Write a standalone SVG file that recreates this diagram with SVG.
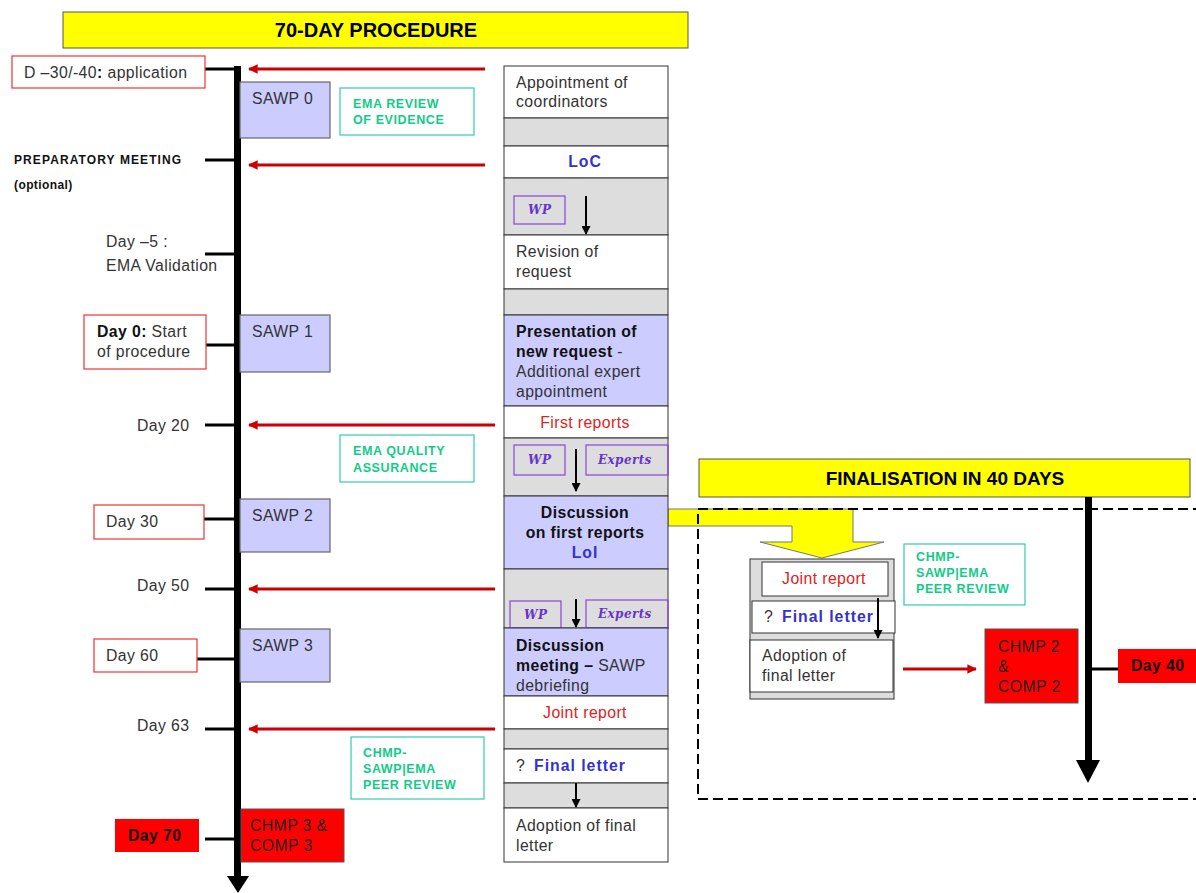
<svg xmlns="http://www.w3.org/2000/svg" width="1196" height="893" viewBox="0 0 1196 893">
<defs>
<style>
text{font-family:"Liberation Sans",Arial,sans-serif;font-size:15.8px;fill:#333;letter-spacing:0.4px}
.b{font-weight:bold;fill:#111}
.title{font-weight:bold;font-size:20px;fill:#000;text-anchor:middle;letter-spacing:0}
.g{font-weight:bold;font-size:12.5px;fill:#11cc88;letter-spacing:0.6px}
.blue{font-weight:bold;fill:#3333cc;letter-spacing:1px}
.red{fill:#dd2222}
.mid{text-anchor:middle}
.wp{font-weight:bold;font-style:italic;font-size:12px;fill:#6633cc;font-family:"DejaVu Serif",serif}
.lbl{fill:#fff;stroke:#ee3333;stroke-width:1.2}
.sawp{fill:#ccccff;stroke:#666;stroke-width:1.2}
.note{fill:#fff;stroke:#33ccaa;stroke-width:1.2}
.redbox{fill:#ff0000;stroke:#555;stroke-width:1}
.cw{fill:#fff;stroke:#333;stroke-width:1}
.cg{fill:#dddddd;stroke:#333;stroke-width:1}
.cl{fill:#ccccff;stroke:#333;stroke-width:1}
.pbox{fill:none;stroke:#8844dd;stroke-width:1.2}
.tick{stroke:#000;stroke-width:3}
.rarr{stroke:#cc0000;stroke-width:3;fill:none;marker-end:url(#rh)}
.darr{stroke:#000;stroke-width:2;fill:none;marker-end:url(#bh)}
</style>
<marker id="rh" viewBox="0 0 10 10" refX="9" refY="5" markerWidth="4" markerHeight="3.2" orient="auto" markerUnits="strokeWidth"><path d="M0,0 L10,5 L0,10 z" fill="#cc0000"/></marker>
<marker id="bh" viewBox="0 0 10 10" refX="9" refY="5" markerWidth="5" markerHeight="4.5" orient="auto" markerUnits="strokeWidth"><path d="M0,0 L10,5 L0,10 z" fill="#000"/></marker>
</defs>

<g id="title70">
<rect x="63" y="12" width="625" height="36" fill="#ffff00" stroke="#555" stroke-width="1"/>
<text class="title" x="376" y="37">70-DAY PROCEDURE</text>
</g>

<g id="timeline-main">
<rect x="234" y="66" width="7" height="814" fill="#000"/>
<path d="M227,876 L249,876 L238,893 z" fill="#000"/>
</g>

<g id="connectors">
<line class="tick" x1="205" y1="69" x2="236" y2="69"/>
<line class="tick" x1="205" y1="160" x2="236" y2="160"/>
<line class="tick" x1="205" y1="254" x2="236" y2="254"/>
<line class="tick" x1="206" y1="345" x2="236" y2="345"/>
<line class="tick" x1="205" y1="425" x2="236" y2="425"/>
<line class="tick" x1="204" y1="519" x2="236" y2="519"/>
<line class="tick" x1="205" y1="589" x2="236" y2="589"/>
<line class="tick" x1="197" y1="659" x2="236" y2="659"/>
<line class="tick" x1="205" y1="729" x2="236" y2="729"/>
<line class="tick" x1="205" y1="839" x2="236" y2="839"/>
<line class="rarr" x1="485" y1="69" x2="249" y2="69"/>
<line class="rarr" x1="485" y1="165" x2="249" y2="165"/>
<line class="rarr" x1="495" y1="425" x2="249" y2="425"/>
<line class="rarr" x1="495" y1="589" x2="249" y2="589"/>
<line class="rarr" x1="495" y1="729" x2="249" y2="729"/>
<line class="rarr" x1="903" y1="669" x2="976" y2="669"/>
<line class="tick" x1="1090" y1="669" x2="1118" y2="669"/>
<path d="M668,509 L853,509 L853,542 L884,542 L822,558 L760,542 L792,542 L792,526 L668,526 z" fill="#ffff00" stroke="#777" stroke-width="1"/>
</g>

<g id="d-30">
<rect class="lbl" x="12" y="56" width="193" height="32"/>
<text x="24" y="78">D –30/-40<tspan class="b">:</tspan> application</text>
</g>
<g id="sawp0"><rect class="sawp" x="240" y="82" width="90" height="56"/><text x="252" y="104">SAWP 0</text></g>
<g id="ema-review"><rect class="note" x="340" y="88" width="134" height="47"/><text class="g" x="353" y="108">EMA REVIEW</text><text class="g" x="353" y="124">OF EVIDENCE</text></g>
<g id="prep"><text class="b" x="14" y="164" style="font-size:12px;letter-spacing:1.1px">PREPARATORY MEETING</text><text class="b" x="14" y="189" style="font-size:12px">(optional)</text></g>
<g id="day-5"><text x="106" y="247">Day –5 :</text><text x="106" y="271">EMA Validation</text></g>
<g id="day0"><rect class="lbl" x="84" y="315" width="122" height="54"/><text x="97" y="337"><tspan class="b">Day 0:</tspan> Start</text><text x="97" y="357">of procedure</text></g>
<g id="sawp1"><rect class="sawp" x="240" y="315" width="90" height="57"/><text x="252" y="337">SAWP 1</text></g>
<g id="day20"><text x="137" y="431">Day 20</text></g>
<g id="ema-qa"><rect class="note" x="340" y="435" width="134" height="47"/><text class="g" x="353" y="455">EMA QUALITY</text><text class="g" x="353" y="472">ASSURANCE</text></g>
<g id="day30"><rect class="lbl" x="94" y="505" width="110" height="34"/><text x="106" y="527">Day 30</text></g>
<g id="sawp2"><rect class="sawp" x="240" y="499" width="90" height="53"/><text x="252" y="521">SAWP 2</text></g>
<g id="day50"><text x="137" y="591">Day 50</text></g>
<g id="day60"><rect class="lbl" x="94" y="639" width="103" height="33"/><text x="106" y="661">Day 60</text></g>
<g id="sawp3"><rect class="sawp" x="240" y="629" width="90" height="53"/><text x="252" y="651">SAWP 3</text></g>
<g id="day63"><text x="137" y="731">Day 63</text></g>
<g id="peer1"><rect class="note" x="351" y="737" width="133" height="62"/><text class="g" x="363" y="757">CHMP-</text><text class="g" x="363" y="773">SAWP|EMA</text><text class="g" x="363" y="789">PEER REVIEW</text></g>
<g id="day70"><rect x="115" y="819" width="84" height="33" fill="#ff0000"/><text class="b" x="128" y="841">Day 70</text></g>
<g id="chmp3"><rect class="redbox" x="241" y="809" width="103" height="53"/><text x="250" y="831" style="fill:#222">CHMP 3 &amp;</text><text x="250" y="851" style="fill:#222">COMP 3</text></g>

<g id="column">
<rect class="cw" x="504" y="66" width="164" height="52"/>
<text x="516" y="88">Appointment of</text><text x="516" y="107">coordinators</text>
<rect class="cg" x="504" y="118" width="164" height="28"/>
<rect class="cw" x="504" y="146" width="164" height="32"/>
<text class="blue mid" x="585" y="167">LoC</text>
<rect class="cg" x="504" y="178" width="164" height="57"/>
<rect class="pbox" x="514" y="196" width="51" height="28"/><text class="wp" x="528" y="214">WP</text>
<line class="darr" x1="586" y1="196" x2="586" y2="234"/>
<rect class="cw" x="504" y="235" width="164" height="54"/>
<text x="516" y="257">Revision of</text><text x="516" y="277">request</text>
<rect class="cg" x="504" y="289" width="164" height="26"/>
<rect class="cl" x="504" y="315" width="164" height="91"/>
<text class="b" x="516" y="337">Presentation of</text>
<text x="516" y="357"><tspan class="b">new request</tspan> -</text>
<text x="516" y="377">Additional expert</text>
<text x="516" y="397">appointment</text>
<rect class="cw" x="504" y="406" width="164" height="32"/>
<text class="red mid" x="585" y="428">First reports</text>
<rect class="cg" x="504" y="438" width="164" height="58"/>
<rect class="pbox" x="514" y="445" width="51" height="30"/><text class="wp" x="528" y="464">WP</text>
<rect class="pbox" x="586" y="445" width="82" height="30"/><text class="wp" x="598" y="464">Experts</text>
<line class="darr" x1="576" y1="449" x2="576" y2="491"/>
<rect class="cl" x="504" y="496" width="164" height="73"/>
<text class="b mid" x="585" y="518">Discussion</text>
<text class="b mid" x="585" y="538">on first reports</text>
<text class="blue mid" x="585" y="558">LoI</text>
<rect class="cg" x="504" y="569" width="164" height="59"/>
<rect class="pbox" x="510" y="601" width="51" height="27"/><text class="wp" x="524" y="619">WP</text>
<rect class="pbox" x="586" y="600" width="82" height="28"/><text class="wp" x="598" y="618">Experts</text>
<line class="darr" x1="576" y1="599" x2="576" y2="627"/>
<rect class="cl" x="504" y="628" width="164" height="68"/>
<text class="b" x="516" y="651">Discussion</text>
<text x="516" y="671"><tspan class="b">meeting –</tspan> SAWP</text>
<text x="516" y="691">debriefing</text>
<rect class="cw" x="504" y="696" width="164" height="33"/>
<text class="red mid" x="585" y="718">Joint report</text>
<rect class="cg" x="504" y="729" width="164" height="20"/>
<rect class="cw" x="504" y="749" width="164" height="34"/>
<text x="516" y="771">? <tspan class="blue" dx="4">Final letter</tspan></text>
<rect class="cg" x="504" y="783" width="164" height="25"/>
<line class="darr" x1="576" y1="783" x2="576" y2="807"/>
<rect class="cw" x="504" y="808" width="164" height="54"/>
<text x="516" y="831">Adoption of final</text><text x="516" y="851">letter</text>
</g>

<g id="final40">
<rect x="699" y="459" width="491" height="38" fill="#ffff00" stroke="#555" stroke-width="1"/>
<text class="title" x="945" y="485" style="font-size:19px">FINALISATION IN 40 DAYS</text>
</g>
<g id="dashed-frame"><rect x="698" y="509" width="520" height="290" fill="none" stroke="#000" stroke-width="2" stroke-dasharray="10,5"/></g>
<g id="timeline-final">
<rect x="1085" y="497" width="7" height="268" fill="#000"/>
<path d="M1076,760 L1100,760 L1088,783 z" fill="#000"/>
</g>
<g id="stack">
<rect x="750" y="559" width="144" height="140" fill="#dddddd" stroke="#333" stroke-width="1"/>
<rect class="cw" x="762" y="562" width="126" height="34"/>
<text class="red mid" x="824" y="584">Joint report</text>
<rect class="cw" x="752" y="601" width="143" height="32"/>
<text x="764" y="622">? <tspan class="blue" dx="4">Final letter</tspan></text>
<rect class="cw" x="750" y="640" width="143" height="52"/>
<text x="762" y="661">Adoption of</text><text x="762" y="681">final letter</text>
<line class="darr" x1="878" y1="598" x2="878" y2="638"/>
</g>
<g id="peer2"><rect class="note" x="904" y="544" width="121" height="61"/><text class="g" x="916" y="561">CHMP-</text><text class="g" x="916" y="577">SAWP|EMA</text><text class="g" x="916" y="593">PEER REVIEW</text></g>
<g id="chmp2"><rect class="redbox" x="985" y="629" width="93" height="74"/><text x="998" y="652" style="fill:#222">CHMP 2</text><text x="998" y="672" style="fill:#222">&amp;</text><text x="998" y="692" style="fill:#222">COMP 2</text></g>
<g id="day40"><rect x="1118" y="649" width="80" height="34" fill="#ff0000"/><text class="b" x="1131" y="671">Day 40</text></g>
</svg>
